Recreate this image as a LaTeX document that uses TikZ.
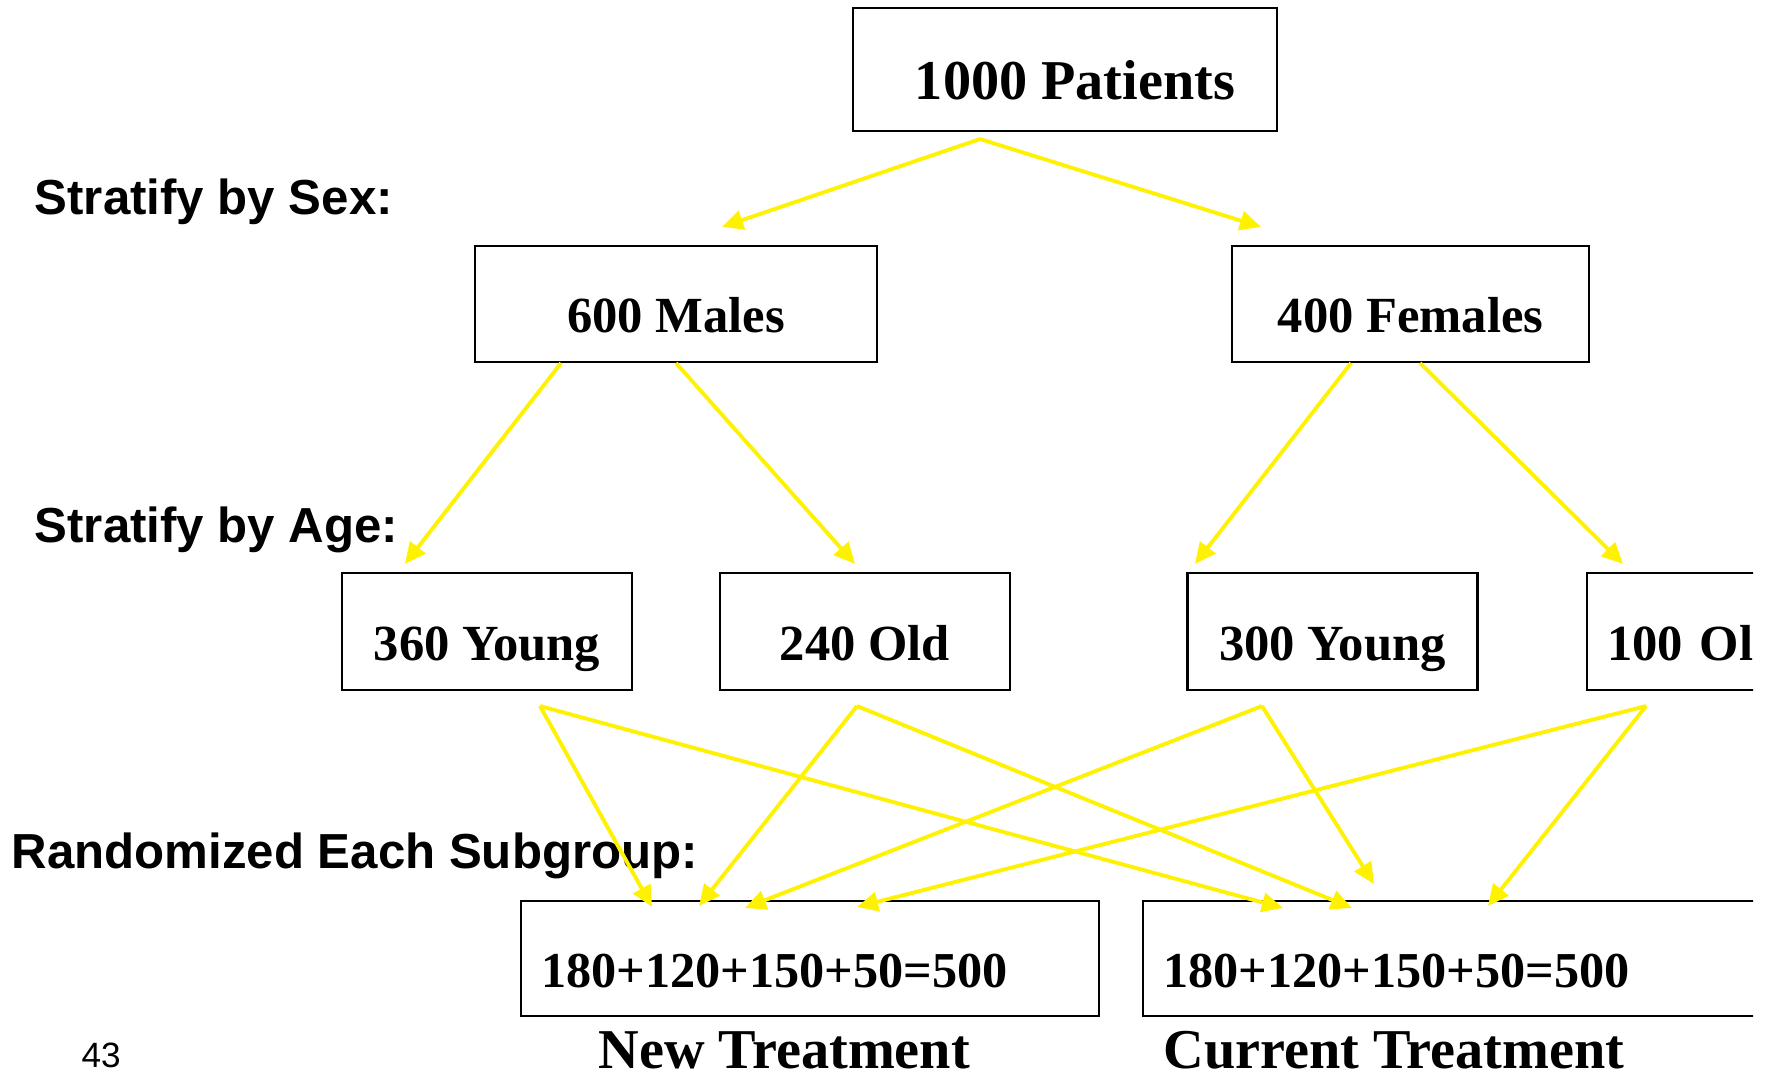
\documentclass[tikz,border=0pt]{standalone}
\usepackage{fontspec}
\setmainfont{Liberation Serif}
\setsansfont{Liberation Sans}
\usetikzlibrary{arrows.meta}

\begin{document}
\begin{tikzpicture}[
        box-node/.style={rectangle,draw,line width=0.6pt,minimum width=2.9cm,minimum height=1.17cm,
            text height=0.57cm,text depth=0pt,font=\bfseries\fontsize{14.4}{17}\selectfont},
        sum-node/.style={box-node,inner xsep=0.2cm,align=left,font=\bfseries\fontsize{14.3}{17}\selectfont},
        side-label/.style={anchor=base west,inner sep=0pt,font=\sffamily\bfseries\fontsize{14}{17}\selectfont},
        tr-label/.style={anchor=base west,inner sep=0pt,font=\bfseries\fontsize{16}{19}\selectfont},
        yel-arrow/.style={draw=yellow,line width=1.1pt,-{Triangle[length=6pt,width=5.5pt]}}
    ]
        \useasboundingbox (0,0) rectangle (17.7,-10.74);
        \clip (0,0) rectangle (17.53,-10.74);

        % levels
        \node[box-node,minimum width=4.24cm,minimum height=1.23cm,text height=0.61cm,
            font=\bfseries\fontsize{16}{20}\selectfont] (1000) at (10.65,-0.695) {\hspace{0.2cm}1000 Patients};

        \node[box-node,minimum width=4.02cm,minimum height=1.16cm] (600) at (6.76,-3.04) {600 Males};
        \node[box-node,minimum width=3.57cm,minimum height=1.16cm] (400) at (14.105,-3.04) {400 Females};

        \node[box-node] (360) at (4.87,-6.315) {360 Young};
        \node[box-node] (240) at (8.65,-6.315) {240 Old};
        \node[box-node] (300) at (13.325,-6.315) {300 Young};
        \node[box-node,inner xsep=0.2cm,text width=2.5cm,align=left] (100) at (17.32,-6.315) {100 Old};

        \node[sum-node,text width=5.38cm,minimum height=1.15cm] (new) at (8.10,-9.585) {180+120+150+50=500};
        \node[sum-node,text width=6.6cm,minimum height=1.15cm] (cur) at (14.93,-9.585) {180+120+150+50=500};

        % labels
        \node[side-label] (sex) at (0.34,-2.15) {Stratify by Sex:};
        \node[side-label] (age) at (0.34,-5.42) {Stratify by Age:};
        \node[side-label] (rand) at (0.11,-8.68) {Randomized Each Subgroup:};
        \node[anchor=base west,inner sep=0pt,font=\sffamily\fontsize{10}{12}\selectfont] (page) at (0.81,-10.67) {43};
        \node[tr-label] (newlab) at (5.98,-10.68) {New Treatment};
        \node[tr-label] (curlab) at (11.63,-10.68) {Current Treatment};

        % arrows
        \draw[yel-arrow] ([shift={(-0.85,-0.07)}]1000.south) -- ([shift={(0.46,0.18)}]600.north);
        \draw[yel-arrow] ([shift={(-0.85,-0.07)}]1000.south) -- ([shift={(-1.495,0.18)}]400.north);

        \draw[yel-arrow] ([xshift=-1.15cm]600.south) -- ([shift={(-0.82,0.08)}]360.north);
        \draw[yel-arrow] (600.south) -- ([shift={(-0.10,0.08)}]240.north);
        \draw[yel-arrow] ([xshift=-0.595cm]400.south) -- ([shift={(-1.375,0.08)}]300.north);
        \draw[yel-arrow] ([xshift=0.095cm]400.south) -- ([shift={(-1.09,0.08)}]100.north);

        \draw[yel-arrow] ([shift={(0.53,-0.15)}]360.south) -- ([shift={(-1.58,-0.07)}]new.north);
        \draw[yel-arrow] ([shift={(0.53,-0.15)}]360.south) -- ([shift={(1.41,-0.08)}]cur.north west);
        \draw[yel-arrow] ([shift={(-0.08,-0.15)}]240.south) -- ([shift={(-1.11,-0.06)}]new.north);
        \draw[yel-arrow] ([shift={(-0.08,-0.15)}]240.south) -- ([shift={(2.10,-0.08)}]cur.north west);
        \draw[yel-arrow] ([shift={(-0.705,-0.15)}]300.south) -- ([shift={(-0.65,-0.08)}]new.north);
        \draw[yel-arrow] ([shift={(-0.705,-0.15)}]300.south) -- ([shift={(2.32,0.16)}]cur.north west);
        \draw[yel-arrow] ([shift={(-0.86,-0.15)}]100.south) -- ([shift={(0.47,-0.07)}]new.north);
        \draw[yel-arrow] ([shift={(-0.86,-0.15)}]100.south) -- ([shift={(3.46,-0.06)}]cur.north west);
    \end{tikzpicture}
\end{document}
